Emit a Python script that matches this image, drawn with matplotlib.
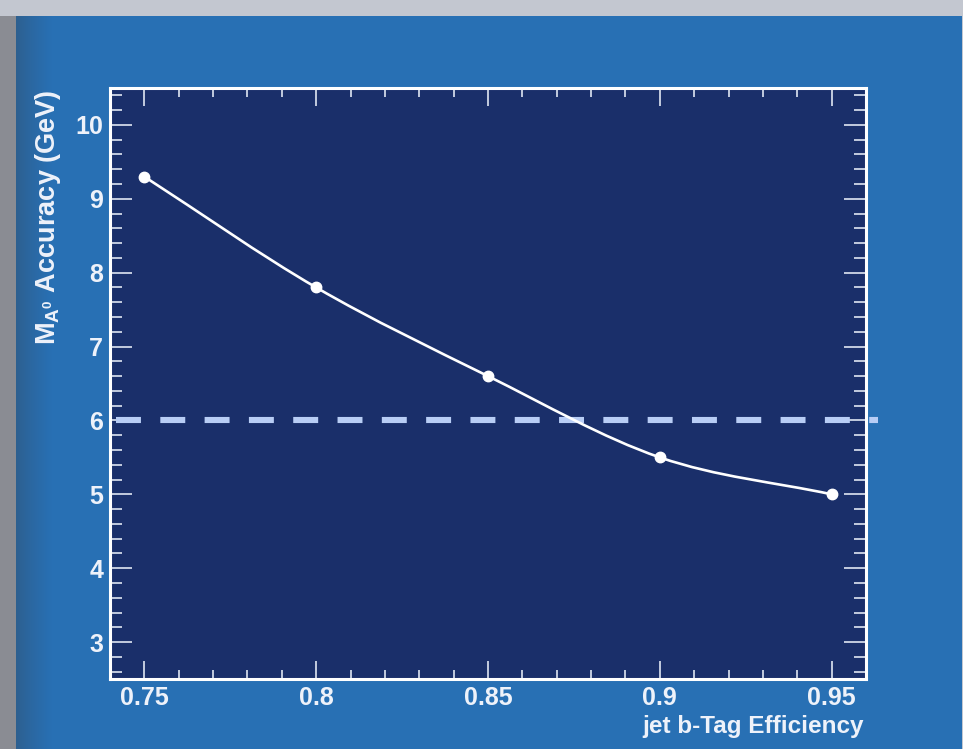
import numpy as np
import matplotlib
matplotlib.use("Agg")
import matplotlib.pyplot as plt
from matplotlib.path import Path
from matplotlib.patches import PathPatch, Rectangle
from matplotlib.ticker import MultipleLocator
from matplotlib.colors import LinearSegmentedColormap

# ---- data ----
efficiency = [0.75, 0.80, 0.85, 0.90, 0.95]
accuracy = [9.3, 7.8, 6.6, 5.5, 5.0]
target_level = 6.0
x_ticks = [0.75, 0.80, 0.85, 0.90, 0.95]
x_tick_labels = ["0.75", "0.8", "0.85", "0.9", "0.95"]
y_ticks = [3, 4, 5, 6, 7, 8, 9, 10]
x_label = "jet b-Tag Efficiency"
y_label = r"M$_{\mathregular{A}^{0}}$ Accuracy (GeV)"

plt.rcParams['font.family'] = ['Liberation Sans', 'DejaVu Sans']
plt.rcParams['font.weight'] = 'bold'
plt.rcParams['mathtext.fontset'] = 'custom'
plt.rcParams['mathtext.rm'] = 'Liberation Sans:bold'
plt.rcParams['mathtext.it'] = 'Liberation Sans:bold'
plt.rcParams['mathtext.bf'] = 'Liberation Sans:bold'

W, H = 963, 749
fig = plt.figure(figsize=(W / 100, H / 100), dpi=100)
fig.patch.set_facecolor('#c3c7d0')

BLUE = '#2870b4'
NAVY = '#1a2f6a'
TXT = '#eef2fa'

# background panels (figure-pixel rectangles)
def rect(x0, y0, x1, y1, color, z=-20):
    fig.patches.append(Rectangle((x0 / W, 1 - y1 / H), (x1 - x0) / W, (y1 - y0) / H,
                                 transform=fig.transFigure, facecolor=color,
                                 edgecolor='none', zorder=z))

rect(0, 16, 16, H, '#8a8c93')
rect(16, 16, 962, H, BLUE)
# left gradient on the blue panel
gax = fig.add_axes([16 / W, 0, 36 / W, 1 - 16 / H], zorder=-10)
grad = np.linspace(0, 1, 256)[None, :] ** 0.8
cm = LinearSegmentedColormap.from_list('g', ['#2e5f8e', BLUE])
gax.imshow(grad, aspect='auto', cmap=cm, extent=[0, 1, 0, 1], interpolation='bilinear')
gax.set_axis_off()

# main axes
ax = fig.add_axes([110 / W, (H - 679) / H, 756 / W, 591 / H], zorder=5)
ax.set_facecolor(NAVY)
ax.set_xlim(0.74, 0.96)
ax.set_ylim(2.5, 10.5)

for s in ax.spines.values():
    s.set_color('white')
    s.set_linewidth(2.2)

ax.set_xticks(x_ticks)
ax.set_xticklabels(x_tick_labels)
ax.set_yticks(y_ticks)
ax.xaxis.set_minor_locator(MultipleLocator(0.01))
ax.yaxis.set_minor_locator(MultipleLocator(0.2))
ax.tick_params(axis='x', which='major', direction='in', length=13, width=1.2,
               color='#dfe6f2', top=True, labelsize=18, labelcolor=TXT, pad=5)
ax.tick_params(axis='x', which='minor', direction='in', length=6.5, width=1.2,
               color='#dfe6f2', top=True)
ax.tick_params(axis='y', which='major', direction='in', length=16, width=1.2,
               color='#dfe6f2', right=True, labelsize=18, labelcolor=TXT, pad=5)
ax.tick_params(axis='y', which='minor', direction='in', length=8.5, width=1.2,
               color='#dfe6f2', right=True)
for lab in ax.get_xticklabels() + ax.get_yticklabels():
    lab.set_fontweight('bold')

# dashed target line (extends slightly beyond the frame on the right)
ax.plot([0.7417, 0.9635], [target_level, target_level], color='#b8cdf5', lw=4.4,
        dashes=(24.5 / 6, 19 / 6), clip_on=False, zorder=3, solid_capstyle='butt',
        dash_capstyle='butt')

# smooth curve through the points (Catmull-Rom as cubic Bezier segments)
xs = np.array(efficiency)
ys = np.array(accuracy)
pts = np.column_stack([xs, ys])
ext = np.vstack([2 * pts[0] - pts[1], pts, 2 * pts[-1] - pts[-2]])
verts = [tuple(pts[0])]
codes = [Path.MOVETO]
for i in range(1, len(ext) - 2):
    p0, p1, p2, p3 = ext[i - 1], ext[i], ext[i + 1], ext[i + 2]
    c1 = p1 + (p2 - p0) / 6.0
    c2 = p2 - (p3 - p1) / 6.0
    verts += [tuple(c1), tuple(c2), tuple(p2)]
    codes += [Path.CURVE4] * 3
ax.add_patch(PathPatch(Path(verts, codes), facecolor='none', edgecolor='white',
                       lw=1.9, zorder=4))
ax.plot(efficiency, accuracy, 'o', color='white', ms=7.5, zorder=5)

# labels
fig.text(642 / W, 1 - 727 / H, x_label, ha='left', va='center', fontsize=17.5,
         fontweight='bold', color=TXT)
fig.text(48 / W, 1 - 89 / H, y_label, ha='center', va='top', rotation=90,
         fontsize=19.5, fontweight='bold', color=TXT)

fig.savefig('out.png', dpi=100, facecolor=fig.get_facecolor())
